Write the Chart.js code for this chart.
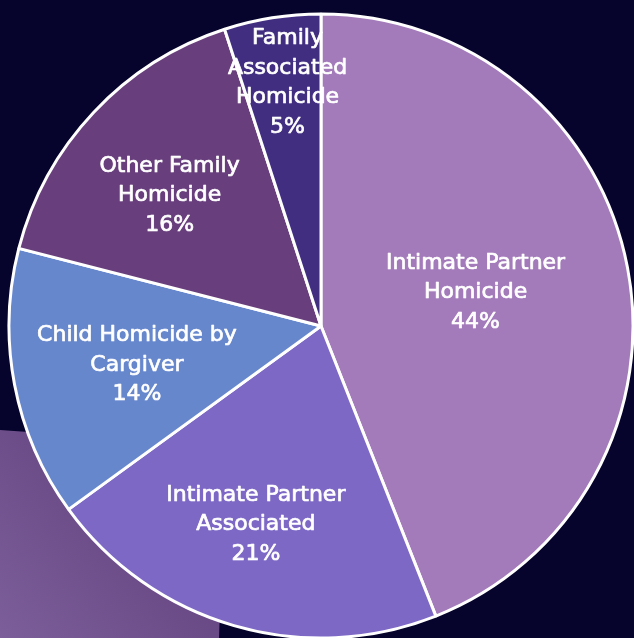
<!DOCTYPE html>
<html><head><meta charset="utf-8">
<script src="https://cdn.jsdelivr.net/npm/chart.js@4/dist/chart.umd.min.js"></script>
<style>html,body{margin:0;padding:0;background:#06042c;overflow:hidden}canvas{display:block}</style>
</head><body>
<canvas id="c" width="634" height="638"></canvas>
<script>
// ---- data ----
const categories = [
  ["Intimate Partner", "Homicide"],
  ["Intimate Partner", "Associated"],
  ["Child Homicide by", "Cargiver"],
  ["Other Family", "Homicide"],
  ["Family", "Associated", "Homicide"]
];
const shares = [44, 21, 14, 16, 5];
const sliceColors = ['#a37aba', '#7d68c6', '#6787cd', '#683f7c', '#412e80'];

// ---- label placement (fraction of radius, angular shift in degrees) ----
const labelRadiusFactor = [0.508, 0.665, 0.602, 0.644, 0.791];
const labelAngleShift = [-2.0, 2.1, -0.7, -2.1, 1.2];

const bgPlugin = {
  id: 'bg',
  beforeDraw(chart) {
    const ctx = chart.ctx, H = chart.height;
    ctx.save();
    ctx.fillStyle = '#06042c';
    ctx.fillRect(0, 0, chart.width, H);
    const g = ctx.createLinearGradient(0, H, 225, 440);
    g.addColorStop(0, '#7c5e9a');
    g.addColorStop(1, '#5c3b76');
    ctx.fillStyle = g;
    ctx.beginPath();
    ctx.moveTo(0, 430);
    ctx.lineTo(225, 446);
    ctx.lineTo(219, H);
    ctx.lineTo(0, H);
    ctx.closePath();
    ctx.fill();
    ctx.restore();
  }
};

const labelPlugin = {
  id: 'sliceLabels',
  afterDatasetsDraw(chart) {
    const ctx = chart.ctx;
    const meta = chart.getDatasetMeta(0);
    ctx.save();
    ctx.fillStyle = '#ffffff';
    ctx.strokeStyle = '#ffffff';
    ctx.lineWidth = 0.7;
    ctx.lineJoin = 'round';
    ctx.font = '22px "DejaVu Sans"';
    ctx.textAlign = 'center';
    ctx.textBaseline = 'middle';
    const lh = 29.5;
    meta.data.forEach((arc, i) => {
      const p = arc.getProps(['x', 'y', 'startAngle', 'endAngle', 'outerRadius'], true);
      const mid = (p.startAngle + p.endAngle) / 2 + labelAngleShift[i] * Math.PI / 180;
      const r = p.outerRadius * labelRadiusFactor[i];
      const cx = p.x + Math.cos(mid) * r;
      const cy = p.y + Math.sin(mid) * r + 1.5;
      const lines = categories[i].concat([shares[i] + '%']);
      const top = cy - (lines.length - 1) * lh / 2;
      lines.forEach((t, k) => {
        ctx.fillText(t, cx, top + k * lh);
        ctx.strokeText(t, cx, top + k * lh);
      });
    });
    ctx.restore();
  }
};

new Chart(document.getElementById('c'), {
  type: 'pie',
  data: {
    labels: categories.map(l => l.join(' ')),
    datasets: [{
      data: shares,
      backgroundColor: sliceColors,
      borderColor: '#ffffff',
      borderWidth: 3,
      radius: 312
    }]
  },
  options: {
    responsive: false,
    animation: false,
    devicePixelRatio: 1,
    layout: { padding: { left: 8, top: 14, right: 0, bottom: 0 } },
    plugins: { legend: { display: false }, tooltip: { enabled: false } }
  },
  plugins: [bgPlugin, labelPlugin]
});
</script>
</body></html>
